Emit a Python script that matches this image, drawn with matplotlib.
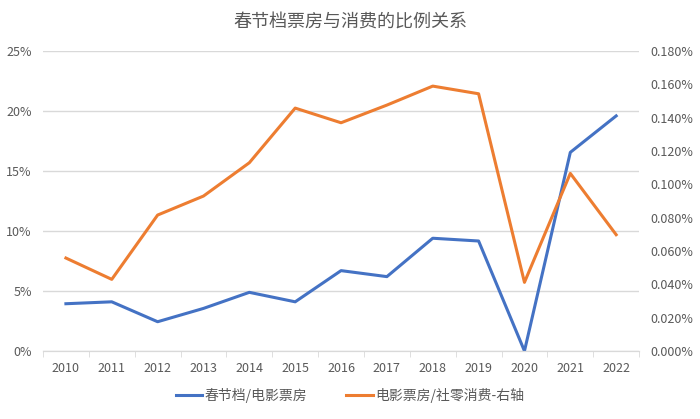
import matplotlib
matplotlib.use('Agg')
import matplotlib.pyplot as plt
from matplotlib.ticker import FuncFormatter, MultipleLocator

plt.rcParams['font.family'] = ['Noto Sans CJK SC', 'DejaVu Sans']

years = ['2010', '2011', '2012', '2013', '2014', '2015', '2016',
         '2017', '2018', '2019', '2020', '2021', '2022']
# 春节档/电影票房, %
spring_share = [3.94, 4.1, 2.44, 3.55, 4.89, 4.1, 6.7,
                6.2, 9.4, 9.17, 0.0, 16.56, 19.6]
# 电影票房/社零消费, %
box_retail = [0.0558, 0.043, 0.0816, 0.093, 0.113, 0.1458, 0.137,
              0.1476, 0.159, 0.1544, 0.0412, 0.1066, 0.0698]

TEXT = '#595959'
BLUE = '#4472C4'
ORANGE = '#ED7D31'
GRID = '#D9D9D9'

fig = plt.figure(figsize=(7, 4.19), dpi=100)
ax = fig.add_axes([0.0614, 0.1623, 0.8516, 0.7157])
ax2 = ax.twinx()

x = list(range(len(years)))
l1, = ax.plot(x, spring_share, color=BLUE, lw=2.2, label='春节档/电影票房')
l2, = ax2.plot(x, box_retail, color=ORANGE, lw=2.2, label='电影票房/社零消费-右轴')

ax.set_xlim(-0.5, len(years) - 0.5)
ax.set_ylim(0, 25)
ax2.set_ylim(0, 0.18)
ax.yaxis.set_major_locator(MultipleLocator(5))
ax2.yaxis.set_major_locator(MultipleLocator(0.02))
ax.yaxis.set_major_formatter(FuncFormatter(lambda v, p: f'{v:.0f}%'))
ax2.yaxis.set_major_formatter(FuncFormatter(lambda v, p: f'{v:.3f}%'))

ax.set_xticks(x)
ax.set_xticklabels(years)
ax.set_xticks([i - 0.5 for i in range(len(years) + 1)], minor=True)
ax.tick_params(axis='x', which='major', length=0, pad=8, labelsize=9, labelcolor=TEXT)
ax.tick_params(axis='x', which='minor', length=4, color=GRID)
ax.tick_params(axis='y', length=0, labelsize=9, labelcolor=TEXT, pad=8)
ax2.tick_params(axis='y', length=0, labelsize=9, labelcolor=TEXT, pad=8)

ax.grid(axis='y', color=GRID, lw=1)
ax.set_axisbelow(True)
for a in (ax, ax2):
    for s in ['top', 'left', 'right']:
        a.spines[s].set_visible(False)
    a.spines['bottom'].set_color(GRID)

fig.text(0.5, 0.947, '春节档票房与消费的比例关系', ha='center', va='center',
         fontsize=13, color=TEXT)

fig.legend(handles=[l1, l2], loc='center', bbox_to_anchor=(0.5, 0.057), ncol=2,
           frameon=False, fontsize=10, labelcolor=TEXT, handlelength=1.9,
           handletextpad=0.2, columnspacing=2.8)

fig.savefig('out.png', dpi=100)
